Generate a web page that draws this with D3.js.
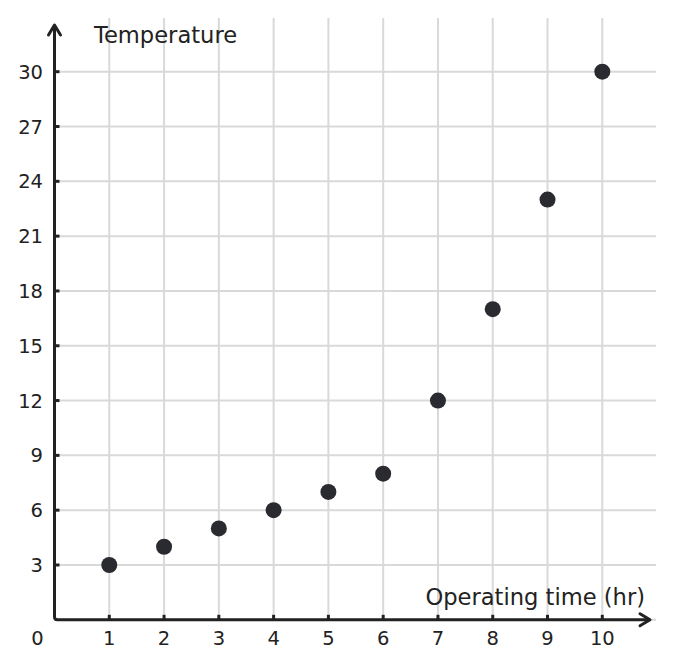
<!DOCTYPE html>
<html>
<head>
<meta charset="utf-8">
<script src="https://cdn.jsdelivr.net/npm/d3@7"></script>
<style>
  body { margin: 0; background: #fff; }
  text { font-family: "DejaVu Sans", sans-serif; fill: #222; }
</style>
</head>
<body>
<div class="chart"></div>
<script>
// data
const hours = [1, 2, 3, 4, 5, 6, 7, 8, 9, 10];
const temps = [3, 4, 5, 6, 7, 8, 12, 17, 23, 30];
const xTicks = [1, 2, 3, 4, 5, 6, 7, 8, 9, 10];
const yTicks = [3, 6, 9, 12, 15, 18, 21, 24, 27, 30];

const width = 674, height = 668;

const svg = d3.select(".chart").append("svg")
  .attr("width", width)
  .attr("height", height);

const xScale = d3.scaleLinear().domain([0, 10]).range([54.5, 602.3]);
const yScale = d3.scaleLinear().domain([0, 30]).range([619.8, 71.7]);

const grid = svg.append("g").attr("stroke", "#d9d9d9").attr("stroke-width", 2);

grid.selectAll(".vgrid")
  .data(xTicks)
  .enter().append("line")
  .attr("x1", d => xScale(d)).attr("x2", d => xScale(d))
  .attr("y1", 18).attr("y2", yScale(0));

grid.selectAll(".hgrid")
  .data([0].concat(yTicks))
  .enter().append("line")
  .attr("x1", xScale(0)).attr("x2", 656)
  .attr("y1", d => yScale(d)).attr("y2", d => yScale(d));

// axes
const ax = svg.append("g").attr("stroke", "#222").attr("stroke-width", 3).attr("fill", "none")
  .attr("stroke-linecap", "round").attr("stroke-linejoin", "round");

ax.append("path")
  .attr("d", `M${xScale(0)},26 V${yScale(0) - 3} Q${xScale(0)},${yScale(0)} ${xScale(0) + 3},${yScale(0)}`);
ax.append("line")
  .attr("x1", xScale(0) + 4).attr("x2", 649)
  .attr("y1", yScale(0)).attr("y2", yScale(0));
// arrow heads
ax.append("path")
  .attr("d", `M${xScale(0) - 6},35 L${xScale(0)},25 L${xScale(0) + 6},35`);
ax.append("path")
  .attr("d", `M640,${yScale(0) - 6} L650,${yScale(0)} L640,${yScale(0) + 6}`);

// tick marks
ax.selectAll(".xtick")
  .data(xTicks)
  .enter().append("line")
  .attr("stroke-linecap", "butt")
  .attr("x1", d => xScale(d)).attr("x2", d => xScale(d))
  .attr("y1", yScale(0)).attr("y2", yScale(0) - 5);

ax.selectAll(".ytick")
  .data(yTicks)
  .enter().append("line")
  .attr("stroke-linecap", "butt")
  .attr("x1", xScale(0)).attr("x2", xScale(0) + 5)
  .attr("y1", d => yScale(d)).attr("y2", d => yScale(d));

// tick labels
svg.selectAll(".xlabel")
  .data(xTicks)
  .enter().append("text")
  .attr("x", d => xScale(d))
  .attr("y", 645)
  .attr("text-anchor", "middle")
  .attr("font-size", 19.5)
  .text(d => d);

svg.selectAll(".ylabel")
  .data(yTicks)
  .enter().append("text")
  .attr("x", 43)
  .attr("y", d => yScale(d) + 7)
  .attr("text-anchor", "end")
  .attr("font-size", 19.5)
  .text(d => d);

svg.append("text")
  .attr("x", 37.5).attr("y", 645)
  .attr("text-anchor", "middle")
  .attr("font-size", 19.5)
  .text("0");

// axis titles
svg.append("text")
  .attr("x", 94).attr("y", 43)
  .attr("font-size", 22.6)
  .text("Temperature");

svg.append("text")
  .attr("x", 645).attr("y", 605)
  .attr("text-anchor", "end")
  .attr("font-size", 22.6)
  .text("Operating time (hr)");

// points
svg.selectAll(".dot")
  .data(hours.map((h, i) => ({h: h, t: temps[i]})))
  .enter().append("circle")
  .attr("cx", d => xScale(d.h))
  .attr("cy", d => yScale(d.t))
  .attr("r", 8)
  .attr("fill", "#2a2b30");
</script>
</body>
</html>
